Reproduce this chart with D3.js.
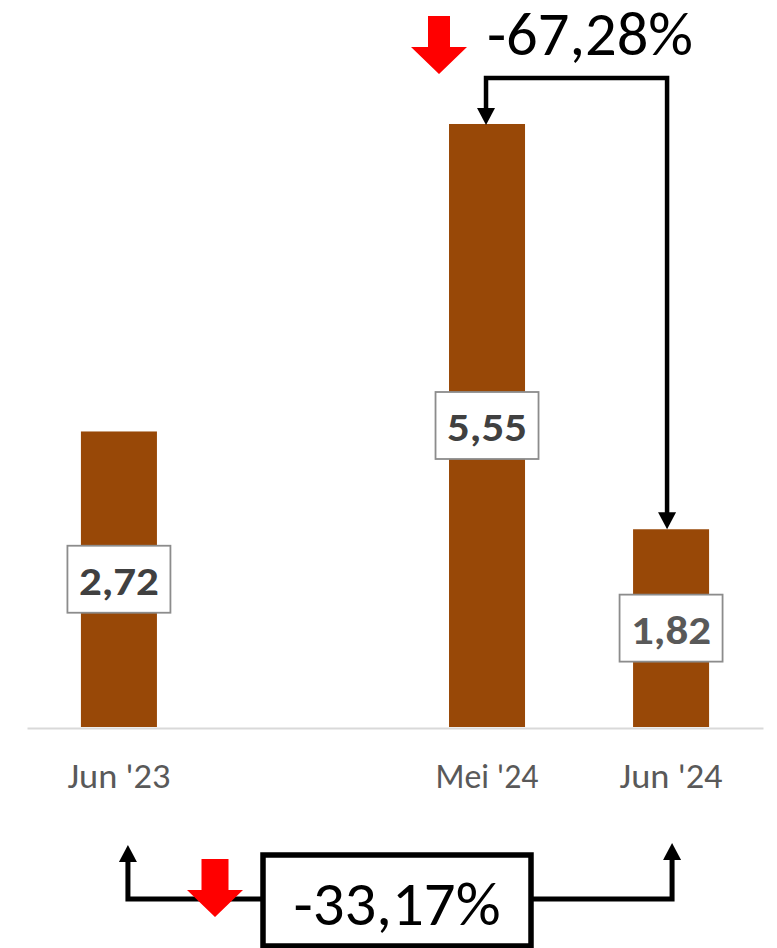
<!DOCTYPE html>
<html>
<head>
<meta charset="utf-8">
<script src="https://cdn.jsdelivr.net/npm/d3@7"></script>
<style>
  html, body { margin: 0; padding: 0; background: #ffffff; }
  svg { display: block; }
  text { font-family: Carlito, Calibri, Lato, "Noto Sans", sans-serif; }
</style>
</head>
<body>
<svg id="chart" width="777" height="948"></svg>
<script>
// ---- data ----
const categories = ["Jun '23", "", "Mei '24", "Jun '24"];
const values = [2.72, null, 5.55, 1.82];
const valueLabels = ["2,72", null, "5,55", "1,82"];
const changeMonthly = "-67,28%";   // Mei '24 -> Jun '24
const changeYearly = "-33,17%";    // Jun '23 -> Jun '24

// ---- layout ----
const W = 777, H = 948;
const svg = d3.select("#chart");
const barColor = "#984807";

const x = d3.scaleBand()
  .domain(categories)
  .range([27, 763])
  .paddingInner(0.587)
  .paddingOuter(0.293);

const y = d3.scaleLinear().domain([0, 6]).range([727, 75.1]);

const cx = c => x(c) + x.bandwidth() / 2;

const data = categories.map((c, i) => ({ c, v: values[i], label: valueLabels[i] }))
  .filter(d => d.v != null);

// bars
svg.append("g").selectAll("rect")
  .data(data).join("rect")
  .attr("x", d => x(d.c))
  .attr("y", d => y(d.v))
  .attr("width", x.bandwidth())
  .attr("height", d => y(0) - y(d.v))
  .attr("fill", barColor);

// axis
const axis = svg.append("g")
  .attr("transform", `translate(0,${y(0) + 1})`)
  .call(d3.axisBottom(x).tickSize(0).tickSizeOuter(0));
axis.select(".domain").attr("stroke", "#d9d9d9").attr("stroke-width", 2);
axis.selectAll(".tick text")
  .attr("dy", null)
  .attr("y", 60)
  .attr("fill", "#595959")
  .style("font-size", "35px")
  .style("font-family", "Carlito, Calibri, Lato, sans-serif")
  .attr("textLength", d => d ? 103 : null)
  .attr("lengthAdjust", "spacingAndGlyphs");

// data labels
const lbl = svg.append("g").selectAll("g")
  .data(data).join("g")
  .attr("transform", d => `translate(${cx(d.c)},${(y(0) + y(d.v)) / 2})`);
lbl.append("rect")
  .attr("x", -51.5).attr("y", -33.5)
  .attr("width", 103).attr("height", 67)
  .attr("fill", "#ffffff")
  .attr("stroke", "#8c8c8c")
  .attr("stroke-width", 1.8);
lbl.append("text")
  .attr("text-anchor", "middle")
  .attr("y", 15.5)
  .attr("font-weight", "bold")
  .style("font-size", "40px")
  .attr("textLength", 80).attr("lengthAdjust", "spacingAndGlyphs")
  .attr("fill", (d, i) => i === 2 ? "#595959" : "#404040")
  .text(d => d.label);

// ---- annotations ----
const ann = svg.append("g");
const lineW = 4.5;

function arrowHead(tipX, tipY, dir) {
  // dir: 1 = pointing down, -1 = pointing up
  const len = 17, half = 9;
  return `M${tipX},${tipY} L${tipX - half},${tipY - dir * len} L${tipX + half},${tipY - dir * len} Z`;
}
function redArrow(xc, top, shaftW, headStart, tip) {
  const hw = 28, sw = shaftW / 2;
  return `M${xc - sw},${top} H${xc + sw} V${headStart} H${xc + hw} L${xc},${tip} L${xc - hw},${headStart} H${xc - sw} Z`;
}

// top connector: Mei '24 -> Jun '24
const xa = cx("Mei '24") - 1, xb = cx("Jun '24") - 4, yTop = 78;
ann.append("path")
  .attr("d", `M${xa},${y(values[2]) - 16} V${yTop} H${xb} V${y(values[3]) - 16}`)
  .attr("fill", "none").attr("stroke", "#000").attr("stroke-width", lineW)
  .attr("stroke-linejoin", "miter");
ann.append("path").attr("d", arrowHead(xa, y(values[2]) + 1, 1)).attr("fill", "#000");
ann.append("path").attr("d", arrowHead(xb, y(values[3]), 1)).attr("fill", "#000");
ann.append("path").attr("d", redArrow(439, 16, 22, 47, 74)).attr("fill", "#ff0000");
ann.append("text")
  .attr("x", 487).attr("y", 55)
  .attr("fill", "#000")
  .style("font-size", "61px")
  .attr("textLength", 206).attr("lengthAdjust", "spacingAndGlyphs")
  .text(changeMonthly);

// bottom connector: Jun '23 -> Jun '24
const xl = cx("Jun '23") + 9, xr = cx("Jun '24") + 1, yBot = 899, yArrow = 845;
ann.append("path")
  .attr("d", `M${xl},${yArrow + 15} V${yBot} H${xr} V${yArrow + 15}`)
  .attr("fill", "none").attr("stroke", "#000").attr("stroke-width", 5);
ann.append("path").attr("d", arrowHead(xl, yArrow, -1)).attr("fill", "#000");
ann.append("path").attr("d", arrowHead(xr, yArrow - 2, -1)).attr("fill", "#000");
ann.append("path").attr("d", redArrow(215, 859, 27, 890, 917)).attr("fill", "#ff0000");
ann.append("rect")
  .attr("x", 263).attr("y", 855).attr("width", 268).attr("height", 91)
  .attr("fill", "#ffffff").attr("stroke", "#000").attr("stroke-width", 5.5);
ann.append("text")
  .attr("x", 397).attr("y", 925)
  .attr("text-anchor", "middle")
  .attr("fill", "#000")
  .style("font-size", "61px")
  .attr("textLength", 207).attr("lengthAdjust", "spacingAndGlyphs")
  .text(changeYearly);
</script>
</body>
</html>
